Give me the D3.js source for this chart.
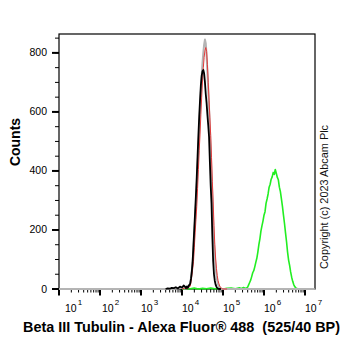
<!DOCTYPE html>
<html><head><meta charset="utf-8">
<script src="https://cdn.jsdelivr.net/npm/d3@7/dist/d3.min.js"></script>
<style>body{margin:0;background:#fff}svg{display:block}text{font-family:"Liberation Sans",Arial,sans-serif}</style>
</head><body>
<script>
// ---- data (log10 of fluorescence, counts) ----
const blackLog = [3.60,3.65,3.70,3.75,3.80,3.85,3.90,3.95,4.00,4.04,4.08,4.10,4.12,4.14,4.16,4.18,4.20,4.22,4.24,4.26,4.28,4.30,4.32,4.34,4.36,4.38,4.40,4.42,4.44,4.46,4.48,4.50,4.52,4.54,4.56,4.58,4.60,4.62,4.64,4.66,4.68,4.70,4.72,4.74,4.76,4.78,4.80,4.82,4.84,4.86,4.88,4.90,4.95];
const blackCounts = [0,2,1,4,3,6,2,8,5,12,7,3,9,4,10,14,18,35,60,95,150,205,262,318,380,450,520,585,640,690,722,738,742,730,700,660,630,590,555,515,430,350,290,180,95,50,28,15,8,3,1,0,0];

const redLog = [4.00,4.06,4.10,4.14,4.16,4.18,4.20,4.22,4.24,4.26,4.28,4.30,4.32,4.34,4.36,4.38,4.40,4.42,4.44,4.46,4.48,4.50,4.52,4.54,4.56,4.58,4.60,4.62,4.64,4.66,4.68,4.70,4.72,4.74,4.76,4.78,4.80,4.82,4.84,4.86,4.88,4.90,4.92,4.94,4.96,4.98,5.00,5.10];
const redCounts = [0,3,1,2,5,7,10,25,45,68,93,140,190,235,280,340,405,470,525,590,650,705,750,785,808,818,805,760,700,640,580,520,445,365,295,215,150,105,70,45,28,18,10,6,3,1,0,0];

const grayLog = [1.00,3.80,3.90,4.00,4.06,4.12,4.14,4.16,4.18,4.20,4.22,4.24,4.26,4.28,4.30,4.32,4.34,4.36,4.38,4.40,4.42,4.44,4.46,4.48,4.50,4.52,4.54,4.56,4.58,4.60,4.62,4.64,4.66,4.68,4.70,4.72,4.74,4.76,4.78,4.80,4.82,4.84,4.86,4.88,4.90,4.92,4.94,4.96,7.24];
const grayCounts = [0,0,2,4,2,3,5,8,12,20,38,62,90,135,185,235,285,345,410,475,540,605,665,720,765,800,828,845,832,790,735,675,610,545,470,390,310,230,160,110,72,45,28,16,9,4,1,0,0];

const greenLog = [4.00,4.10,4.20,4.30,4.40,4.50,4.60,4.70,4.80,4.90,5.00,5.10,5.20,5.30,5.40,5.45,5.50,5.55,5.575,5.60,5.625,5.65,5.675,5.70,5.725,5.75,5.775,5.80,5.825,5.85,5.875,5.90,5.925,5.95,5.975,6.00,6.025,6.05,6.075,6.10,6.125,6.15,6.175,6.20,6.225,6.25,6.275,6.30,6.325,6.35,6.375,6.40,6.425,6.45,6.475,6.50,6.525,6.55,6.575,6.60,6.625,6.65,6.675,6.70,6.725,6.75,6.775,6.80,6.825,6.90];
const greenCounts = [0,2,1,3,0,2,1,3,1,2,0,2,3,1,4,2,5,2,4,6,14,22,30,42,55,62,75,90,104,125,150,170,196,214,230,250,262,290,305,322,345,355,372,380,395,388,405,392,378,370,345,330,305,280,250,222,190,160,125,98,80,58,40,26,15,8,4,2,0,0];

const yTicks = [0,200,400,600,800];
const xDecades = [1,2,3,4,5,6,7];
const xTitle = "Beta III Tubulin - Alexa Fluor\u00AE 488  (525/40 BP)";
const yTitle = "Counts";
const copyright = "Copyright (c) 2023 Abcam Plc";

// ---- chart ----
const W = 362, H = 351;
const L = 59, R = 315, T = 34, B = 289;
const svg = d3.select("body").append("svg").attr("width", W).attr("height", H);

const x = d3.scaleLog().domain([10, Math.pow(10, 7.244)]).range([L, R]);
const y = d3.scaleLinear().domain([0, 864]).range([B, T]);

// frame
svg.append("rect").attr("x", L).attr("y", T).attr("width", R - L).attr("height", B - T)
  .attr("fill", "none").attr("stroke", "#000").attr("stroke-width", 1.2);

// y axis
const yMinor = d3.range(0, 864, 50);
svg.append("g").selectAll("line").data(yMinor).join("line")
  .attr("x1", L - 4).attr("x2", L).attr("y1", d => y(d)).attr("y2", d => y(d))
  .attr("stroke", "#000").attr("stroke-width", 1);
svg.append("g").selectAll("line").data(yTicks).join("line")
  .attr("x1", L - 7).attr("x2", L).attr("y1", d => y(d)).attr("y2", d => y(d))
  .attr("stroke", "#000").attr("stroke-width", 2);
svg.append("g").selectAll("text").data(yTicks).join("text")
  .attr("x", 47).attr("y", d => y(d) + 3.5).attr("text-anchor", "end")
  .attr("font-size", 10.5).text(d => d);

// x axis
const xMinor = [];
for (let e = 1; e <= 7; e++) for (let m = 2; m <= 9; m++) {
  const v = m * Math.pow(10, e);
  if (v <= x.domain()[1]) xMinor.push(v);
}
svg.append("g").selectAll("line").data(xMinor).join("line")
  .attr("x1", d => x(d)).attr("x2", d => x(d)).attr("y1", B).attr("y2", B + 3.5)
  .attr("stroke", "#000").attr("stroke-width", 1);
svg.append("g").selectAll("line").data(xDecades).join("line")
  .attr("x1", d => x(Math.pow(10, d))).attr("x2", d => x(Math.pow(10, d)))
  .attr("y1", B).attr("y2", B + 6.5).attr("stroke", "#000").attr("stroke-width", 2);
const xl = svg.append("g").selectAll("text").data(xDecades).join("text")
  .attr("x", d => x(Math.pow(10, d)) + (d === 1 ? 6 : d === 2 ? 2 : 0))
  .attr("y", 312).attr("font-size", 10.5);
xl.append("tspan").text("10");
xl.append("tspan").attr("dy", -7).attr("dx", 1).attr("font-size", 8).text(d => d);

// titles
svg.append("text").attr("x", 181.5).attr("y", 332).attr("text-anchor", "middle")
  .attr("font-size", 14.4).attr("font-weight", "bold").style("white-space", "pre").text(xTitle);
svg.append("text").attr("transform", "translate(20,142) rotate(-90)").attr("text-anchor", "middle")
  .attr("font-size", 14).attr("font-weight", "bold").text(yTitle);
svg.append("text").attr("transform", "translate(328,197) rotate(-90)").attr("text-anchor", "middle")
  .attr("font-size", 10.9).attr("fill", "#111").text(copyright);

// series
const line = d3.line().x(d => x(Math.pow(10, d[0]))).y(d => y(d[1]));
const series = [
  {lx: greenLog, c: greenCounts, col: "#22ee22", w: 1.6},
  {lx: grayLog, c: grayCounts, col: "#b4b4b4", w: 2},
  {lx: redLog, c: redCounts, col: "#e23a3a", w: 1},
  {lx: blackLog, c: blackCounts, col: "#000", w: 1.8}
];
series.forEach(s => {
  svg.append("path").datum(s.lx.map((v, i) => [v, s.c[i]]))
    .attr("d", line).attr("fill", "none").attr("stroke", s.col)
    .attr("stroke-width", s.w).attr("stroke-linejoin", "round");
});
</script>
</body></html>
